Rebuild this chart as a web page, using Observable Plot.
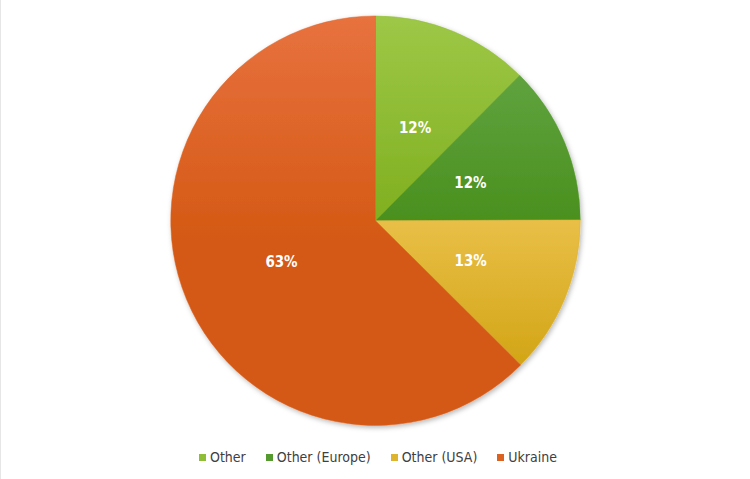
<!DOCTYPE html>
<html>
<head>
<meta charset="utf-8">
<script src="https://cdn.jsdelivr.net/npm/d3@7"></script>
<script src="https://cdn.jsdelivr.net/npm/@observablehq/plot@0.6"></script>
<style>
  html, body { margin: 0; padding: 0; background: #fff; }
  #chart { width: 750px; height: 479px; position: relative; overflow: hidden; border-left: 1px solid #e6e6e6; box-sizing: border-box; }
  #chart svg.pie { position: absolute; left: -1px; top: 0; }
  #legend { position: absolute; left: 2px; top: 446px; width: 750px; }
  .lg-swatches { justify-content: center; margin: 0 !important; min-height: 22px !important; }
  .lg-swatch { margin-right: 20px !important; }
  .lg-swatch:last-child { margin-right: 0 !important; }
  .lg-swatch > svg { margin-right: 4px !important; }
</style>
</head>
<body>
<div id="chart"><div id="legend"></div></div>
<script>
const categories = ["Other", "Other (Europe)", "Other (USA)", "Ukraine"];
const shares = [12.45, 12.49, 12.51, 62.55];
const colors = ["#8fbd35", "#559a2e", "#deb32e", "#dc6222"];
const topColors = ["#9dc847", "#5fa33f", "#e9bf47", "#e8723f"];
const bottomColors = ["#80af20", "#4a901e", "#d2a516", "#d45914"];

const data = categories.map((name, i) => ({name, value: shares[i], i}));

const W = 750, H = 440, CX = 376, CY = 221, R = 205;
const arcs = d3.pie().sort(null).value(d => d.value)(data);
const arcGen = d3.arc().innerRadius(0).outerRadius(R);
const labelArc = d3.arc().innerRadius(R / 2).outerRadius(R / 2);
const labels = arcs.map(a => {
  const [lx, ly] = labelArc.centroid(a);
  return {x: CX + lx, y: CY + ly, text: Math.round(a.data.value) + "%"};
});

function pieMark(index, scales, values, dimensions) {
  const svgNS = "http://www.w3.org/2000/svg";
  const g = document.createElementNS(svgNS, "g");
  const defs = document.createElementNS(svgNS, "defs");
  const filter = document.createElementNS(svgNS, "filter");
  filter.setAttribute("id", "pshadow");
  filter.setAttribute("x", "-10%"); filter.setAttribute("y", "-10%");
  filter.setAttribute("width", "120%"); filter.setAttribute("height", "120%");
  const ds = document.createElementNS(svgNS, "feDropShadow");
  ds.setAttribute("dx", "1.5"); ds.setAttribute("dy", "2");
  ds.setAttribute("stdDeviation", "2.5");
  ds.setAttribute("flood-color", "#000"); ds.setAttribute("flood-opacity", "0.28");
  filter.appendChild(ds);
  defs.appendChild(filter);
  arcs.forEach((a, k) => {
    const lg = document.createElementNS(svgNS, "linearGradient");
    lg.setAttribute("id", "grad" + k);
    lg.setAttribute("x1", "0"); lg.setAttribute("y1", "0");
    lg.setAttribute("x2", "0"); lg.setAttribute("y2", "1");
    const s0 = document.createElementNS(svgNS, "stop");
    s0.setAttribute("offset", "0"); s0.setAttribute("stop-color", topColors[k]);
    const s1 = document.createElementNS(svgNS, "stop");
    s1.setAttribute("offset", k === 3 ? "0.55" : "1"); s1.setAttribute("stop-color", bottomColors[k]);
    const s2 = document.createElementNS(svgNS, "stop");
    s2.setAttribute("offset", "1"); s2.setAttribute("stop-color", bottomColors[k]);
    lg.appendChild(s0); lg.appendChild(s1); lg.appendChild(s2);
    defs.appendChild(lg);
  });
  g.appendChild(defs);
  const pg = document.createElementNS(svgNS, "g");
  pg.setAttribute("transform", `translate(${CX},${CY})`);
  pg.setAttribute("filter", "url(#pshadow)");
  arcs.forEach((a, k) => {
    const p = document.createElementNS(svgNS, "path");
    p.setAttribute("d", arcGen(a));
    p.setAttribute("fill", `url(#grad${k})`);
    p.setAttribute("stroke", scales.color(a.data.name));
    p.setAttribute("stroke-width", "0.5");
    pg.appendChild(p);
  });
  g.appendChild(pg);
  return g;
}

const plot = Plot.plot({
  width: W,
  height: H,
  margin: 0,
  x: {type: "identity", axis: null},
  y: {type: "identity", axis: null},
  color: {domain: categories, range: colors},
  style: {background: "transparent", overflow: "visible"},
  marks: [
    Plot.dot(data, {x: () => CX, y: () => CY, r: 0, fill: "name"}),
    pieMark,
    Plot.text(labels, {
      x: "x", y: "y", text: "text",
      dy: 1.5,
      fill: "#ffffff",
      fontSize: 15,
      fontWeight: "bold",
      fontFamily: "'DejaVu Sans Condensed', 'DejaVu Sans', sans-serif",
      fontStretch: "condensed"
    })
  ]
});
plot.classList.add("pie");
document.getElementById("chart").insertBefore(plot, document.getElementById("legend"));

const legend = Plot.legend({
  color: {domain: categories, range: colors},
  swatchSize: 7,
  className: "lg",
  style: {
    fontFamily: "'DejaVu Sans Condensed', 'DejaVu Sans', sans-serif",
    fontStretch: "condensed",
    fontSize: "14px",
    color: "#404040"
  }
});
document.getElementById("legend").appendChild(legend);
</script>
</body>
</html>
